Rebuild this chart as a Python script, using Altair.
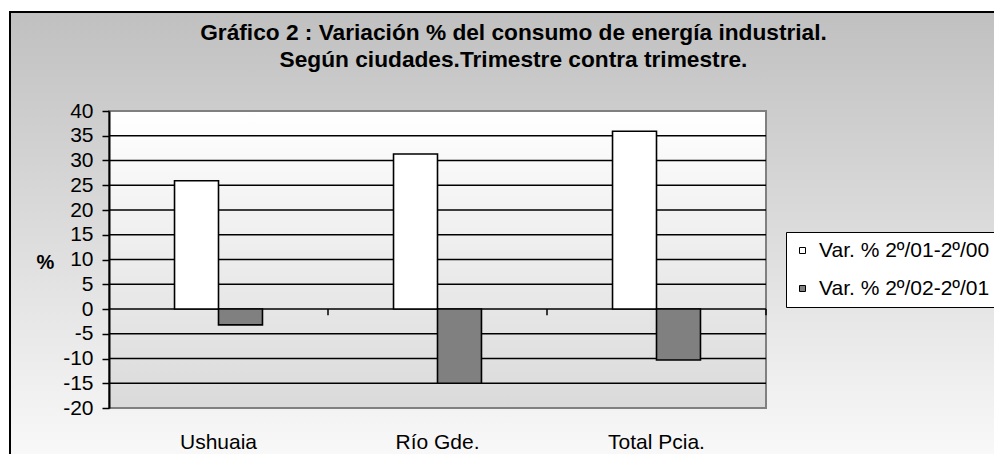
import altair as alt
import pandas as pd

# ---- data ----
categories = ["Ushuaia", "Río Gde.", "Total Pcia."]
series_names = ["Var. % 2º/01-2º/00", "Var. % 2º/02-2º/01"]
values_01_00 = [25.9, 31.3, 35.9]
values_02_01 = [-3.2, -15.0, -10.3]
y_ticks = [-20, -15, -10, -5, 0, 5, 10, 15, 20, 25, 30, 35, 40]
grid_values = [-15, -10, -5, 0, 5, 10, 15, 20, 25, 30, 35]
title_lines = [
    "Gráfico 2 : Variación % del consumo de energía industrial.",
    "Según ciudades.Trimestre contra trimestre.",
]

rows = []
for c, a, b in zip(categories, values_01_00, values_02_01):
    rows.append({"ciudad": c, "serie": series_names[0], "valor": a})
    rows.append({"ciudad": c, "serie": series_names[1], "valor": b})
df = pd.DataFrame(rows)
grid_df = pd.DataFrame({"valor": grid_values})
cat_df = pd.DataFrame({"ciudad": categories})
one_df = pd.DataFrame({"k": [0]})

W, H = 657, 297
FONT = "Liberation Sans"

xscale = alt.Scale(domain=categories, paddingInner=0, paddingOuter=0)
yscale = alt.Scale(domain=[-20, 40], nice=False, zero=False)
# empty slots either side of the two bars give Excel's wide gap between groups
offset_domain = ["_gap_a"] + series_names + ["_gap_b"]

x_axis = alt.Axis(
    title=None, domain=False, ticks=False, tickSize=0, labelAngle=0,
    labelFont=FONT, labelFontSize=21, labelColor="black",
    labelPadding=40, labelBaseline="alphabetic", zindex=1,
)
y_axis = alt.Axis(
    values=y_ticks, grid=False, domainColor="black", domainWidth=2,
    tickColor="black", tickSize=7, tickWidth=1.5,
    labelFont=FONT, labelFontSize=21, labelColor="black", labelPadding=9,
    labelExpr="'' + datum.value",
    title="%", titleAngle=0, titleFont=FONT, titleFontSize=20,
    titleFontWeight="bold", titleColor="black", titleAlign="center",
    titleBaseline="middle", titleX=-64, titleY=151, zindex=1,
)

outer_grad = {
    "gradient": "linear", "x1": 0, "y1": 0, "x2": 0, "y2": 1,
    "stops": [{"offset": 0, "color": "#c0c0c0"}, {"offset": 1, "color": "#fdfdfd"}],
}
plot_grad = {
    "gradient": "linear", "x1": 0, "y1": 0, "x2": 0, "y2": 1,
    "stops": [{"offset": 0, "color": "#ffffff"}, {"offset": 1, "color": "#dadada"}],
}

# chart-area background; its frame continues past the picture's right and bottom edges
outer_bg = alt.Chart(one_df).mark_rect(fill=outer_grad, strokeWidth=0).encode(
    x=alt.value(-99), x2=alt.value(950), y=alt.value(-99), y2=alt.value(380)
)
frame_top = alt.Chart(one_df).mark_rule(color="black", strokeWidth=2).encode(
    x=alt.value(-100), x2=alt.value(950), y=alt.value(-99)
)
frame_left = alt.Chart(one_df).mark_rule(color="black", strokeWidth=2).encode(
    x=alt.value(-99), y=alt.value(-100), y2=alt.value(380)
)

plot_bg = alt.Chart(one_df).mark_rect(
    fill=plot_grad, stroke="#808080", strokeWidth=2
).encode(
    x=alt.value(0), x2=alt.value(W), y=alt.value(0), y2=alt.value(H)
)

grid = alt.Chart(grid_df).mark_rule(color="black", strokeWidth=1.4).encode(
    x=alt.value(0), x2=alt.value(W),
    y=alt.Y("valor:Q", scale=yscale, axis=y_axis),
)

bars = alt.Chart(df).mark_bar(stroke="black", strokeWidth=1.6).encode(
    x=alt.X("ciudad:N", sort=categories, scale=xscale, axis=x_axis),
    xOffset=alt.XOffset(
        "serie:N",
        scale=alt.Scale(domain=offset_domain, paddingInner=0, paddingOuter=0.49),
    ),
    y=alt.Y("valor:Q", scale=yscale, axis=y_axis),
    color=alt.Color(
        "serie:N", sort=series_names,
        scale=alt.Scale(domain=series_names, range=["#ffffff", "#808080"]),
        legend=alt.Legend(
            title=None, orient="none", legendX=677, legendY=121,
            strokeColor="black", fillColor="white", padding=8,
            symbolType="square", symbolSize=36, symbolStrokeColor="black",
            symbolStrokeWidth=1, symbolOffset=-2, labelFont=FONT,
            labelFontSize=21, labelColor="black", labelOffset=6,
            labelLimit=0, rowPadding=16,
        ),
    ),
)

ticks = alt.Chart(cat_df).mark_rule(color="black", strokeWidth=1.5).encode(
    x=alt.X("ciudad:N", sort=categories, scale=xscale, bandPosition=1, axis=x_axis),
    y=alt.Y(datum=0, scale=yscale, axis=y_axis),
    y2=alt.Y2(datum=-1.25),
)

chart = alt.layer(
    outer_bg, frame_top, frame_left, plot_bg, grid, bars, ticks
).properties(
    width=W, height=H,
    autosize=alt.AutoSizeParams(type="none"),
    padding={"left": 101, "top": 103, "right": 228, "bottom": 46},
    title=alt.TitleParams(
        text=title_lines, font=FONT, fontSize=22.7, fontWeight="bold",
        color="black", anchor="middle", frame="group", dx=76, offset=-62,
        lineHeight=27,
    ),
).configure_view(strokeWidth=0).configure(background="white")

chart.save("out.html", embed_options={"renderer": "svg", "actions": False})
